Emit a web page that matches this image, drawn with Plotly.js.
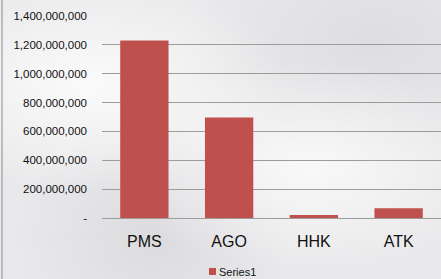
<!DOCTYPE html>
<html>
<head>
<meta charset="utf-8">
<script src="https://cdn.plot.ly/plotly-3.0.1.min.js"></script>
<style>
html,body{margin:0;padding:0;}
body{width:441px;height:279px;overflow:hidden;
background:
 radial-gradient(ellipse at 20% 30%, rgba(255,255,255,0.8), rgba(255,255,255,0) 40%),
 radial-gradient(ellipse at 70% 60%, rgba(255,255,255,0.7), rgba(255,255,255,0) 45%),
 radial-gradient(ellipse at 85% 15%, rgba(205,205,210,0.4), rgba(205,205,210,0) 35%),
 radial-gradient(ellipse at 35% 85%, rgba(200,200,205,0.4), rgba(200,200,205,0) 35%),
 #e9e9eb;}
#chart{width:441px;height:279px;}
</style>
</head>
<body>
<div id="chart"></div>
<script>
var categories = ["PMS", "AGO", "HHK", "ATK"];
var series1 = [1230000000, 697000000, 21000000, 68000000];
var seriesName = "Series1";
var yTickVals = [0, 200000000, 400000000, 600000000, 800000000, 1000000000, 1200000000, 1400000000];
var yTickText = ["-", "200,000,000", "400,000,000", "600,000,000", "800,000,000", "1,000,000,000", "1,200,000,000", "1,400,000,000"];

var barColor = "#C0504D";
var trace = {
  type: "bar",
  x: categories,
  y: series1,
  name: seriesName,
  marker: {color: barColor},
  showlegend: false
};

var W = 339, H = 202; // plot area size in px
function px(x) { return (x - 102) / W; }
function py(y) { return (218 - y) / H; }

var layout = {
  width: 441, height: 279,
  margin: {l: 102, r: 0, t: 16, b: 61, pad: 0},
  paper_bgcolor: "rgba(0,0,0,0)",
  plot_bgcolor: "rgba(0,0,0,0)",
  bargap: 0.43,
  font: {family: "Liberation Sans, Arial, sans-serif", color: "#111111"},
  xaxis: {
    showgrid: false, showline: false, zeroline: false,
    tickfont: {size: 16, color: "#111111"},
    ticks: "", ticklabelstandoff: 12
  },
  yaxis: {
    range: [0, 1400000000],
    tickvals: yTickVals, ticktext: yTickText,
    tickfont: {size: 11.5, color: "#111111"},
    showgrid: true, gridcolor: "#9c9c9c", gridwidth: 1,
    zeroline: true, zerolinecolor: "#9c9c9c", zerolinewidth: 1,
    showline: false, ticks: "", ticklabelstandoff: 14
  },
  showlegend: false,
  annotations: [{
    xref: "paper", yref: "paper",
    x: px(217), y: py(271.5), xanchor: "left", yanchor: "middle",
    text: seriesName, showarrow: false,
    font: {size: 11, color: "#111111"}
  }],
  shapes: [{
    type: "line", xref: "paper", yref: "paper",
    x0: px(2), x1: px(2), y0: py(279), y1: py(0),
    line: {color: "#8c8c8c", width: 1}
  }, {
    type: "rect", xref: "paper", yref: "paper",
    x0: px(209), x1: px(216), y0: py(275), y1: py(268),
    fillcolor: barColor, line: {width: 0}
  }]
};

Plotly.newPlot("chart", [trace], layout, {displayModeBar: false, staticPlot: true});
</script>
</body>
</html>
